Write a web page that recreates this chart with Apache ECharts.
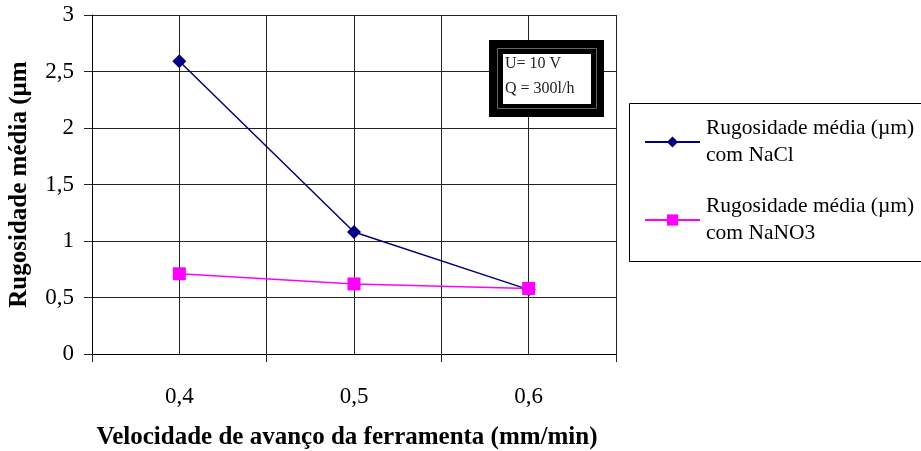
<!DOCTYPE html>
<html>
<head>
<meta charset="utf-8">
<script src="https://cdn.jsdelivr.net/npm/echarts@6/dist/echarts.min.js"></script>
<style>
    html, body { margin: 0; padding: 0; background: #fff; }
    #chart { width: 921px; height: 451px; }
</style>
</head>
<body>
<div id="chart"></div>
<script>
// categorias (velocidade de avanço, mm/min)
const categories = ["0,4", "0,5", "0,6"];
// rugosidade média (µm)
const naclValues = [2.59, 1.08, 0.57];
const nano3Values = [0.71, 0.62, 0.58];
const seriesNames = ["Rugosidade média (µm)\ncom NaCl", "Rugosidade média (µm)\ncom NaNO3"];
const yTicks = [0, 0.5, 1, 1.5, 2, 2.5, 3];

const FONT = "'Liberation Serif', 'Times New Roman', serif";
const GRID_COLOR = "#222";

function fmt(v) {
    return String(v).replace(".", ",");
}

const chart = echarts.init(document.getElementById("chart"));

let option = {
    animation: false,
    grid: { left: 92, right: 305, top: 15, bottom: 97, outerBoundsMode: "none", containLabel: false },
    legend: {
        orient: "vertical",
        left: 644,
        top: 115,
        itemWidth: 55,
        itemHeight: 14,
        itemGap: 24,
        padding: 0,
        data: seriesNames,
        textStyle: { fontFamily: FONT, fontSize: 21.5, color: "#000", lineHeight: 27, padding: [0, 0, 0, 1] }
    },
    xAxis: [
        {
            type: "category",
            data: categories,
            boundaryGap: true,
            axisLine: { lineStyle: { color: "#000", width: 1 } },
            axisTick: { show: true, length: 8, lineStyle: { color: GRID_COLOR } },
            axisLabel: { fontFamily: FONT, fontSize: 23, color: "#000", margin: 31, interval: 0 },
            splitLine: { show: false },
            name: "Velocidade de avanço da ferramenta (mm/min)",
            nameLocation: "middle",
            nameGap: 71,
            nameTextStyle: { fontFamily: FONT, fontSize: 25, fontWeight: "bold", color: "#000", padding: [0, 14, 0, 0] }
        },
        {
            // eixo auxiliar só para as linhas verticais da grade
            type: "value",
            min: 0,
            max: 6,
            interval: 1,
            position: "bottom",
            axisLine: { show: false },
            axisTick: { show: false },
            axisLabel: { show: false },
            splitLine: { show: true, lineStyle: { color: GRID_COLOR, width: 1 } }
        }
    ],
    yAxis: {
        type: "value",
        min: yTicks[0],
        max: yTicks[yTicks.length - 1],
        interval: 0.5,
        axisLine: { show: true, lineStyle: { color: "#000" } },
        axisTick: { show: true, length: 8, lineStyle: { color: GRID_COLOR } },
        axisLabel: {
            fontFamily: FONT, fontSize: 23, color: "#000", margin: 18,
            formatter: fmt
        },
        splitLine: { show: true, lineStyle: { color: GRID_COLOR, width: 1 } },
        name: "Rugosidade média (µm",
        nameLocation: "middle",
        nameGap: 60,
        nameTextStyle: { fontFamily: FONT, fontSize: 25, fontWeight: "bold", color: "#000" }
    },
    series: [
        {
            name: seriesNames[0],
            type: "line",
            data: naclValues,
            symbol: "diamond",
            symbolSize: 14,
            itemStyle: { color: "#000080" },
            lineStyle: { color: "#000080", width: 1.5 }
        },
        {
            name: seriesNames[1],
            type: "line",
            data: nano3Values,
            symbol: "rect",
            symbolSize: 13,
            itemStyle: { color: "#FF00FF" },
            lineStyle: { color: "#FF00FF", width: 1.5 }
        }
    ],
    graphic: [
        // moldura da legenda
        {
            type: "rect",
            shape: { x: 629.5, y: 103.5, width: 300, height: 158 },
            style: { fill: "none", stroke: "#000", lineWidth: 1 },
            z: 0
        },
        // caixa de condições
        {
            type: "rect",
            shape: { x: 489, y: 40, width: 115, height: 77 },
            style: { fill: "#000" },
            z: 10
        },
        {
            type: "rect",
            shape: { x: 497.5, y: 48.5, width: 99, height: 60 },
            style: { fill: "none", stroke: "#666", lineWidth: 1 },
            z: 11
        },
        {
            type: "rect",
            shape: { x: 503, y: 54, width: 88, height: 50 },
            style: { fill: "#fff" },
            z: 11
        },
        {
            type: "text",
            left: 505,
            top: 56,
            style: { text: "U= 10 V", font: "16px " + FONT, fill: "#222" },
            z: 12
        },
        {
            type: "text",
            left: 505,
            top: 81,
            style: { text: "Q = 300l/h", font: "16px " + FONT, fill: "#222" },
            z: 12
        }
    ]
};

chart.setOption(option, true);
</script>
</body>
</html>
